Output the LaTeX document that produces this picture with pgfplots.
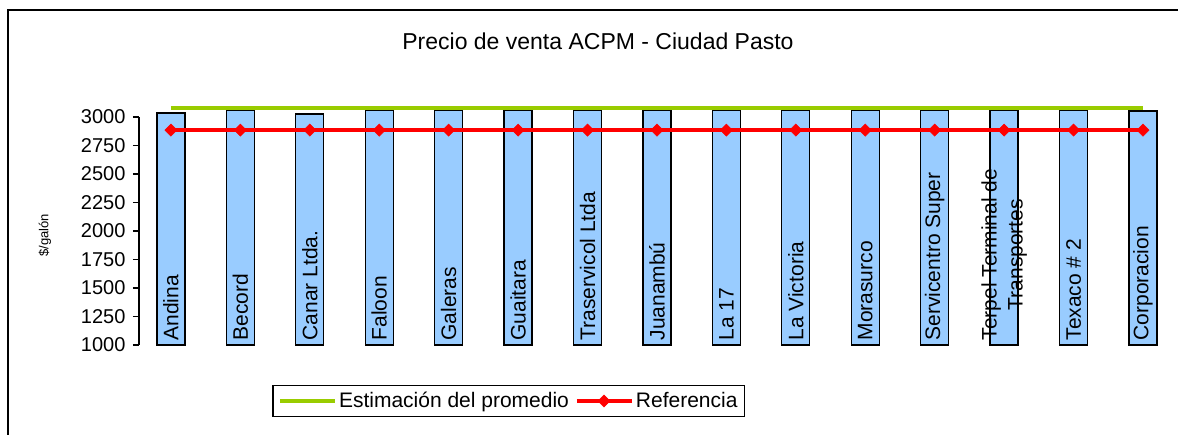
\documentclass[border=0pt]{standalone}
\usepackage{fontspec}
\setmainfont{Liberation Sans}
\usepackage{pgfplots}
\usepackage{pgfplotstable}
\pgfplotsset{compat=1.18}
\definecolor{barblue}{HTML}{99CCFF}
\definecolor{estgreen}{HTML}{99CC00}
\definecolor{refred}{HTML}{FF0000}

% precio de venta por estacion ($/galon)
\pgfplotstableread{
i v
0 3035
1 3060
2 3025
3 3060
4 3060
5 3060
6 3060
7 3060
8 3060
9 3060
10 3060
11 3060
12 3060
13 3060
14 3053
}\precios

\begin{document}
\begin{tikzpicture}
\clip (0,0) rectangle (1178bp,435bp);
\fill[white] (0,0) rectangle (1178bp,435bp);
\draw[line width=1.5bp] (8bp,-20bp) -- (8bp,425bp) -- (1200bp,425bp);
\begin{axis}[
  at={(139bp,90bp)}, anchor=south west,
  scale only axis, width=1038.7bp, height=228bp,
  xmin=-0.46, xmax=14.5, ymin=1000, ymax=3000,
  clip=false, axis on top,
  axis y line*=left, axis x line*=bottom,
  x axis line style={draw=none},
  y axis line style={line width=1.5bp, -},
  xtick={0,...,14},
  xticklabels={Andina,Becord,Canar Ltda.,Faloon,Galeras,Guaitara,Traservicol Ltda,Juanambú,La 17,La Victoria,Morasurco,Servicentro Super,{Terpel Terminal de\\Transportes},Texaco \# 2,Corporacion},
  xtick style={draw=none},
  xticklabel style={yshift=7bp, rotate=90, anchor=west, align=center, font=\fontsize{21bp}{26bp}\selectfont},
  ytick={1000,1250,...,3000},
  ytick style={line width=1.5bp, black},
  tick align=outside, major tick length=6bp,
  yticklabel style={font=\fontsize{20bp}{24bp}\selectfont, xshift=-4bp},
  /pgf/number format/assume math mode=true,
  /pgf/number format/1000 sep={},
  title={Precio de venta ACPM - Ciudad Pasto},
  title style={at={(axis description cs:0.4419,1.307)}, anchor=center, font=\fontsize{23bp}{27bp}\selectfont},
  ylabel={\$/galón},
  ylabel style={at={(axis description cs:-0.0905,0.482)}, anchor=center, font=\fontsize{13bp}{15bp}\selectfont},
  legend columns=2,
  legend style={at={(axis description cs:0.356,-0.2456)}, anchor=center, draw=black, line width=1.5bp,
    font=\fontsize{21bp}{24bp}\selectfont, inner sep=5bp,
    /tikz/every even column/.append style={column sep=4bp}},
  legend cell align=left,
  legend image code/.code={\draw[mark repeat=2,mark phase=2,#1] plot coordinates {(0bp,0bp) (27bp,0bp) (55bp,0bp)};},
]
\addplot[ybar, stack plots=y, bar width=28bp, bar shift=0pt, draw=none, fill=none, forget plot]
  table[x=i, y expr=1000] \precios;
\addplot[ybar, stack plots=y, bar width=28bp, bar shift=0pt, fill=barblue, draw=black, line width=1.3bp, forget plot]
  table[x=i, y expr=\thisrow{v}-1000] \precios;
\addplot[stack plots=false, estgreen, line width=4bp, no marks] coordinates {(0,3075) (14,3075)};
\addlegendentry{Estimación del promedio}
\addplot[stack plots=false, refred, line width=4bp, mark=square*, mark size=4.3bp, mark options={rotate=45, solid, fill=refred, draw=refred, line width=0.5bp}]
  coordinates {(0,2885) (1,2885) (2,2885) (3,2885) (4,2885) (5,2885) (6,2885) (7,2885) (8,2885) (9,2885) (10,2885) (11,2885) (12,2885) (13,2885) (14,2885)};
\addlegendentry{Referencia}
\end{axis}
\end{tikzpicture}
\end{document}
